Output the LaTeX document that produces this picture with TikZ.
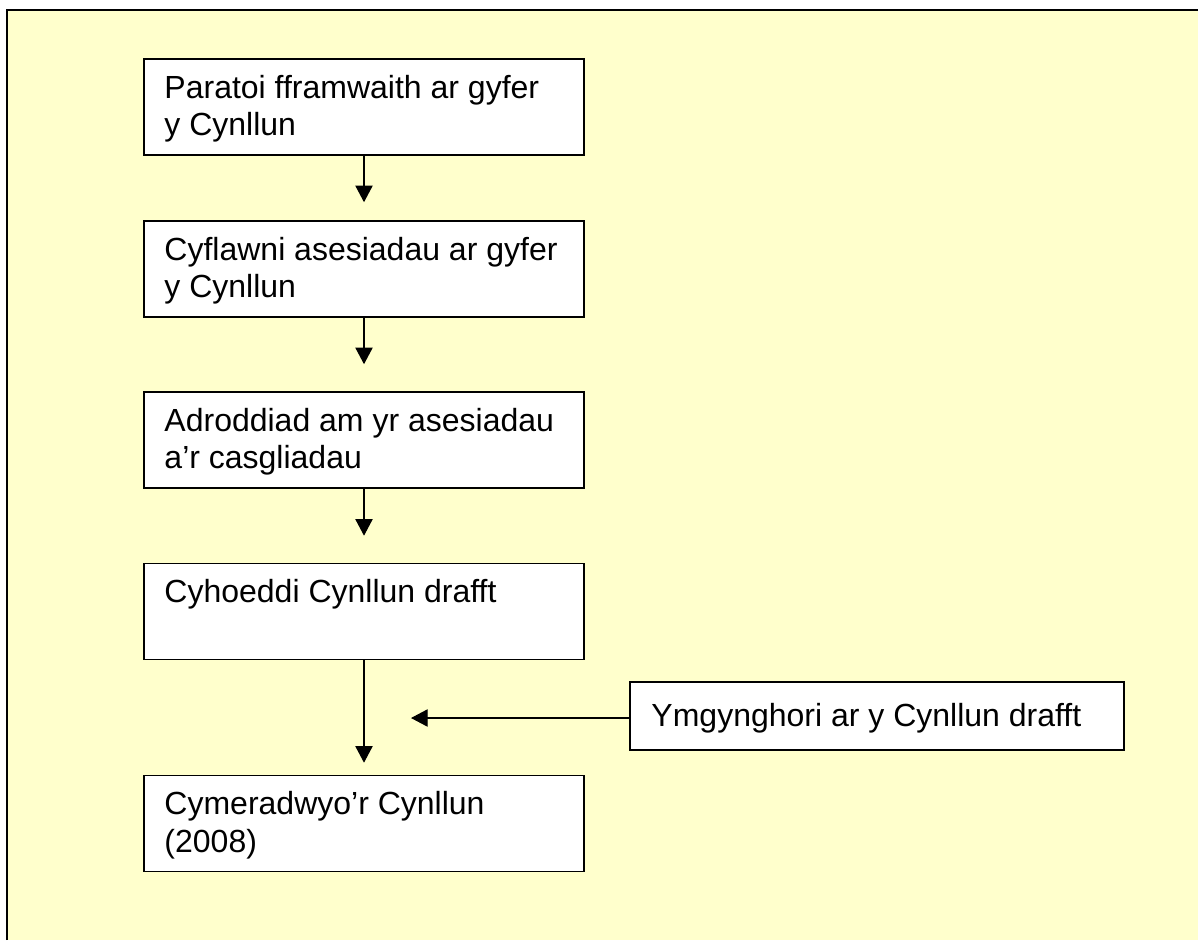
\documentclass[tikz,border=0pt]{standalone}
\usepackage{fontspec}
\setmainfont{Liberation Sans}
\usetikzlibrary{arrows.meta}
\definecolor{bgyellow}{RGB}{255,255,204}
\tikzset{
  box/.style={draw=black, line width=1.2pt, fill=white, rectangle, inner sep=0pt,
              minimum width=330pt, minimum height=72pt},
  sidebox/.style={box, minimum width=370.5pt, minimum height=51pt},
  lbl/.style={anchor=base west, inner sep=0pt, font=\fontsize{24}{28.2}\selectfont},
  arr/.style={draw=black, line width=0.9pt, -{Triangle[length=12.5pt,width=13pt]}},
  frameline/.style={draw=black, line width=1pt}
}
\newcommand{\twolines}[2]{\parbox[t]{320pt}{\raggedright #1\\#2}}
\begin{document}
\begin{tikzpicture}[x=0.75pt,y=-0.75pt]
\useasboundingbox (0,0) rectangle (1198,940);
\fill[bgyellow] (7,10) rectangle (1198,940);
\draw[frameline] (7,940) -- (7,10) -- (1198,10);

\node[box] (b1) at (364,107) {};
\node[box] (b2) at (364,269) {};
\node[box] (b3) at (364,440) {};
\node[box] (b4) at (364,611.5) {};
\node[box] (b5) at (364,823.5) {};
\node[sidebox] (side) at (877,716) {};

\node[lbl] (t1) at ([shift={(21,40)}]b1.north west) {\twolines{Paratoi fframwaith ar gyfer}{y Cynllun}};
\node[lbl] (t2) at ([shift={(21,40)}]b2.north west) {\twolines{Cyflawni asesiadau ar gyfer}{y Cynllun}};
\node[lbl] (t3) at ([shift={(21,40)}]b3.north west) {\twolines{Adroddiad am yr asesiadau}{a’r casgliadau}};
\node[lbl] (t4) at ([shift={(21,40)}]b4.north west) {Cyhoeddi Cynllun drafft};
\node[lbl] (t5) at ([shift={(21,40)}]b5.north west) {\twolines{Cymeradwyo’r Cynllun}{(2008)}};
\node[lbl] (t6) at ([shift={(22,45)}]side.north west) {Ymgynghori ar y Cynllun drafft};

\coordinate (m) at (411,718);

\draw[arr] (b1.south) -- ([yshift=13.5pt]b2.north);
\draw[arr] (b2.south) -- ([yshift=20.25pt]b3.north);
\draw[arr] (b3.south) -- ([yshift=20.25pt]b4.north);
\draw[arr] (b4.south) -- ([yshift=9pt]b5.north);
\draw[arr] (side.west |- m) -- (m);
\end{tikzpicture}
\end{document}
